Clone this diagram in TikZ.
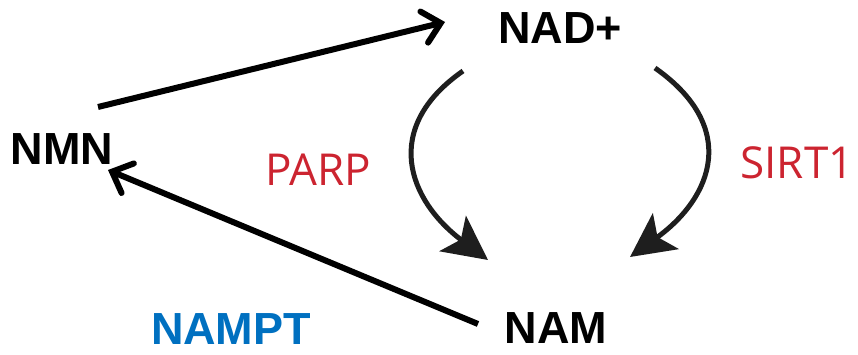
\documentclass[tikz,border=0pt]{standalone}
\usepackage{fontspec}
\setmainfont{Liberation Sans}
\newfontfamily\enzfont{Open Sans}
\usetikzlibrary{arrows.meta}
\definecolor{enzred}{RGB}{204,36,48}
\definecolor{enzblue}{RGB}{0,112,192}
\begin{document}
\begin{tikzpicture}[x=1pt,y=1pt,
  met/.style={font=\fontsize{45}{50}\selectfont\bfseries,inner sep=0pt},
  enz/.style={font=\enzfont\fontsize{44}{50}\selectfont,text=enzred,inner sep=0pt},
  flow/.style={line width=6pt,-{Straight Barb[length=17pt,width=32pt,line cap=round]}},
  turn/.style={line width=5pt,draw={rgb,255:red,30;green,30;blue,30},
    -{Stealth[length=44pt,width=44pt,inset=10pt]}}]
\useasboundingbox (0,0) rectangle (858,355);
%
% metabolitos
\node[met] (1) at (560,327) {NAD+};
\node[met] (2) at (62,206) {NMN};
\node[met] (3) at (556,27) {NAM};
% enzimas
\node[met,text=enzblue] (4) at (231,26) {NAMPT};
\node[enz] (5) at (318,185) {PARP};
\node[enz] (6) at (797,192) {SIRT1};
%
% extremos de las flechas
\coordinate (a) at (98,248);
\coordinate (b) at (445,333);
\coordinate (c) at (478,31);
\coordinate (d) at (108,185);
\coordinate (e) at (463,284);
\coordinate (f) at (488,95);
\coordinate (g) at (655,287);
\coordinate (h) at (630,98);
%
\draw[flow] (a) -- (b);
\draw[flow] (c) -- (d);
\draw[turn] (e) .. controls (381,227) and (408,155) .. (f);
\draw[turn] (g) .. controls (739,228) and (713,158) .. (h);
%
\end{tikzpicture}
\end{document}
